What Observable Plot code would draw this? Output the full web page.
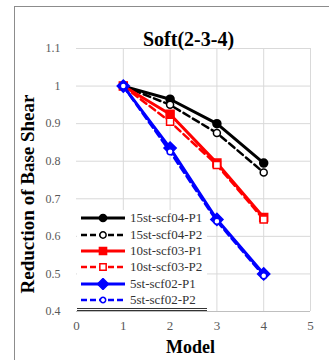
<!DOCTYPE html>
<html>
<head>
<meta charset="utf-8">
<script src="https://cdn.jsdelivr.net/npm/d3@7"></script>
<script src="https://cdn.jsdelivr.net/npm/@observablehq/plot@0.6"></script>
<style>
  html, body { margin: 0; padding: 0; background: #fff; }
  #wrap { position: relative; width: 329px; height: 360px; overflow: hidden; background: #fff; }
  #frame { position: absolute; left: 14px; top: 6px; width: 400px; height: 400px; border-left: 1.5px solid #8c8c8c; border-top: 1.5px solid #8c8c8c; pointer-events: none; }
  #legend { position: absolute; left: 77px; top: 210px; width: 130px; background: #fff;
            border-bottom: 3px double #333; font-family: "Liberation Serif", serif; font-size: 13px; color: #333; }
  .row { display: flex; align-items: center; height: 16.4px; white-space: nowrap; }
  .row svg { margin-left: 3px; margin-right: 4px; flex: none; }
</style>
</head>
<body>
<div id="wrap"><div id="chart"></div><div id="frame"></div><div id="legend"></div></div>
<script>
const title = "Soft(2-3-4)";
const xLabel = "Model";
const yLabel = "Reduction of Base Shear";
const models = [1, 2, 3, 4];
const xTicks = [0, 1, 2, 3, 4, 5];
const xTickLabels = ["0", "1", "2", "3", "4", "5"];
const yTicks = [0.4, 0.5, 0.6, 0.7, 0.8, 0.9, 1.0, 1.1];
const yTickLabels = ["0.4", "0.5", "0.6", "0.7", "0.8", "0.9", "1", "1.1"];

const seriesNames = ["15st-scf04-P1", "15st-scf04-P2", "10st-scf03-P1", "10st-scf03-P2", "5st-scf02-P1", "5st-scf02-P2"];
const s15P1 = [1, 0.965, 0.90, 0.795];
const s15P2 = [1, 0.95, 0.875, 0.77];
const s10P1 = [1, 0.925, 0.795, 0.65];
const s10P2 = [1, 0.905, 0.79, 0.645];
const s5P1  = [1, 0.835, 0.645, 0.50];
const s5P2  = [1, 0.825, 0.64, 0.495];

const styles = [
  {color: "#000000", dash: null,  symbol: "circle",   fill: "#000000", r: 4},
  {color: "#000000", dash: "7,4", symbol: "circle",   fill: "#ffffff", r: 3.5},
  {color: "#ff0000", dash: null,  symbol: "square",   fill: "#ff0000", r: 4.5},
  {color: "#ff0000", dash: "7,4", symbol: "square",   fill: "#ffffff", r: 4},
  {color: "#0000ff", dash: null,  symbol: "diamond2", fill: "#0000ff", r: 5.5},
  {color: "#0000ff", dash: "7,4", symbol: "circle",   fill: "#ffffff", r: 3}
];
const allSeries = [s15P1, s15P2, s10P1, s10P2, s5P1, s5P2];

const marks = [
  Plot.ruleY(yTicks.slice(1), {stroke: "#d9d9d9", strokeWidth: 1}),
  Plot.ruleX(xTicks.slice(1), {stroke: "#d9d9d9", strokeWidth: 1}),
  Plot.ruleY([yTicks[0]], {stroke: "#bfbfbf", strokeWidth: 1}),
  Plot.axisX({ticks: xTicks, tickSize: 0, tickPadding: 9, fontSize: 13, fill: "#595959", label: null,
              tickFormat: d => xTickLabels[xTicks.indexOf(d)]}),
  Plot.axisY({ticks: yTicks, tickSize: 0, tickPadding: 16, fontSize: 12, fill: "#595959", label: null,
              tickFormat: d => yTickLabels[yTicks.indexOf(d)]})
];
allSeries.forEach((vals, i) => {
  const st = styles[i];
  const data = models.map((m, j) => ({x: m, y: vals[j]}));
  marks.push(Plot.line(data, {x: "x", y: "y", stroke: st.color, strokeWidth: st.dash ? 2.5 : 3, strokeDasharray: st.dash}));
  marks.push(Plot.dot(data, {x: "x", y: "y", symbol: () => st.symbol, r: st.r, fill: st.fill, stroke: st.color, strokeWidth: 1.5}));
});
marks.push(Plot.text([title], {frameAnchor: "top", dy: -17, dx: -5, fontSize: 20, fontWeight: "bold", fill: "#000"}));
marks.push(Plot.text([xLabel], {frameAnchor: "bottom", dy: 41, dx: -3, fontSize: 18, fontWeight: "bold", fill: "#000"}));
marks.push(Plot.text([yLabel], {frameAnchor: "left", textAnchor: "middle", dx: -49, dy: 14, rotate: -90, fontSize: 19, fontWeight: "bold", fill: "#000"}));

const chart = Plot.plot({
  width: 329, height: 360,
  marginLeft: 76, marginRight: 19, marginTop: 48, marginBottom: 49,
  x: {domain: [0, 5]},
  y: {domain: [0.4, 1.1]},
  style: {fontFamily: "Liberation Serif, serif", background: "#fff"},
  marks
});
document.getElementById("chart").appendChild(chart);

const legend = document.getElementById("legend");
seriesNames.forEach((name, i) => {
  const st = styles[i];
  const row = document.createElement("div");
  row.className = "row";
  const svg = d3.create("svg").attr("width", 46).attr("height", 12);
  svg.append("line").attr("x1", 1).attr("x2", 45).attr("y1", 6).attr("y2", 6)
    .attr("stroke", st.color).attr("stroke-width", st.dash ? 2.5 : 3).attr("stroke-dasharray", st.dash ? "6,3" : null);
  const sym = d3.symbol().type(st.symbol === "square" ? d3.symbolSquare : st.symbol === "diamond2" ? d3.symbolDiamond2 : d3.symbolCircle)
    .size(Math.PI * st.r * st.r * 0.8);
  svg.append("path").attr("d", sym()).attr("transform", "translate(23,6)")
    .attr("fill", st.fill).attr("stroke", st.color).attr("stroke-width", 1.5);
  row.appendChild(svg.node());
  const t = document.createElement("span");
  t.textContent = name;
  row.appendChild(t);
  legend.appendChild(row);
});
</script>
</body>
</html>
